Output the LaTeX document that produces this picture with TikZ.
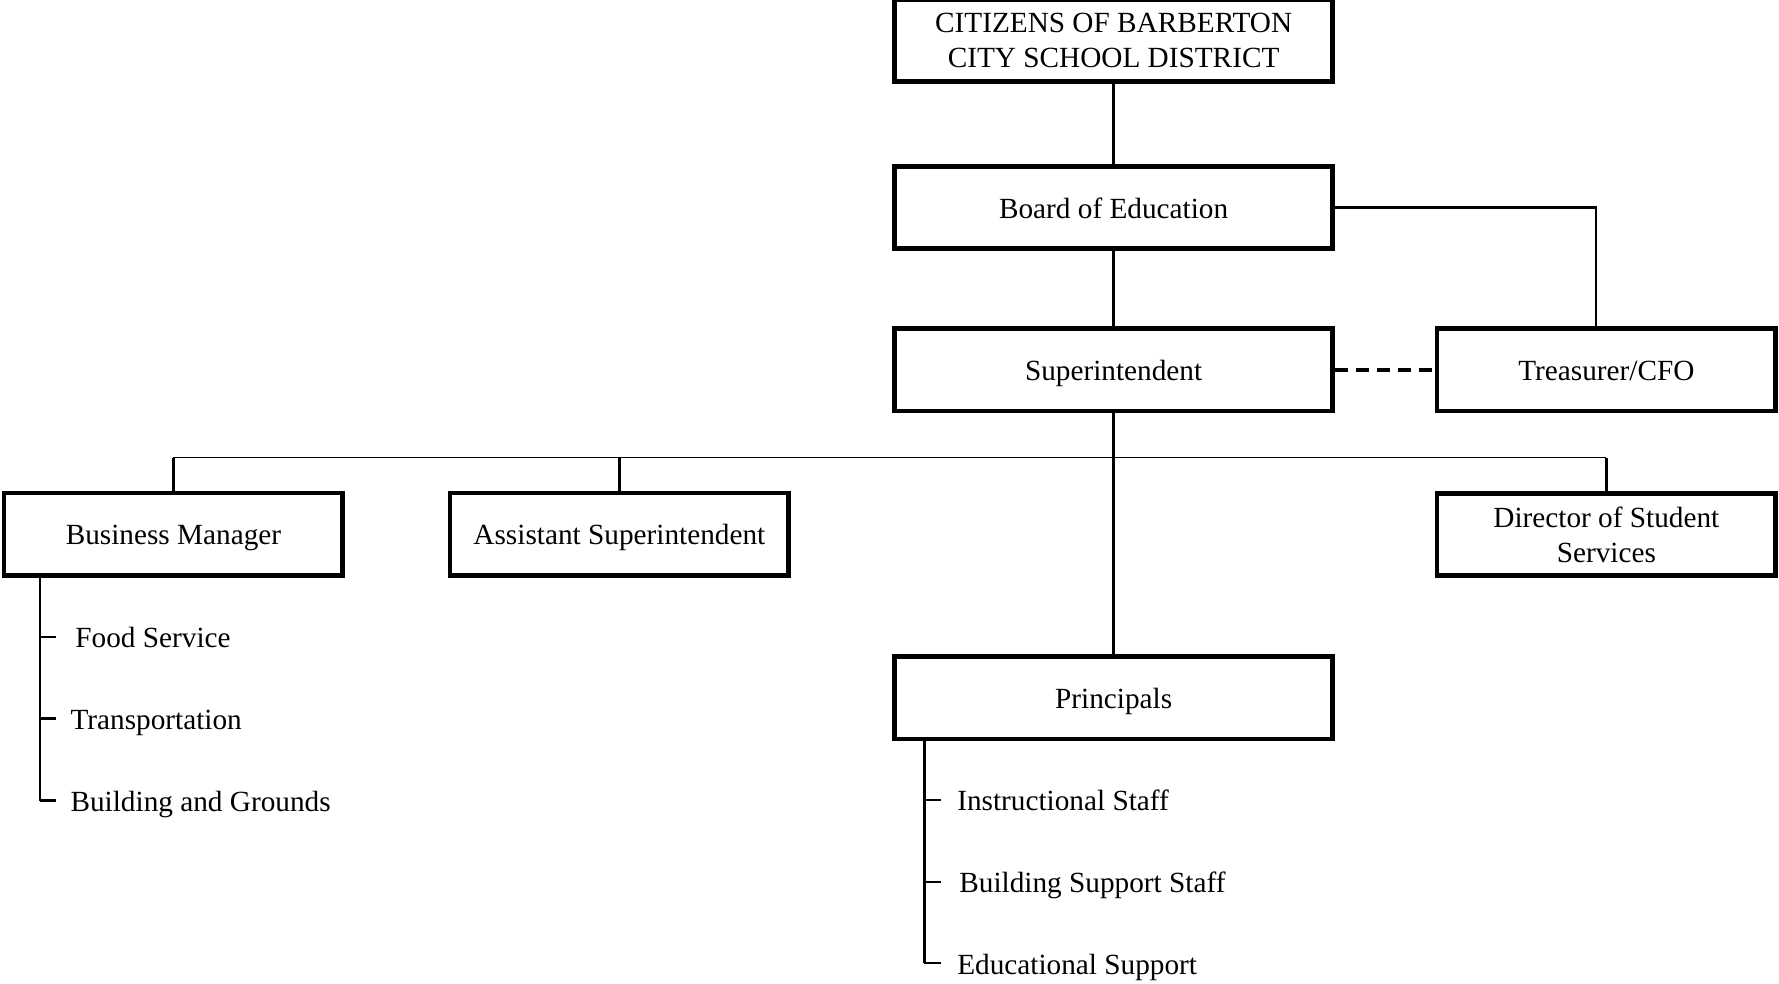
\documentclass[tikz,border=0pt]{standalone}
\usepackage{fontspec}
\setmainfont{Liberation Serif}
\usetikzlibrary{positioning}

\begin{document}
\begin{tikzpicture}[
    font=\fontsize{12pt}{14.4pt}\selectfont,
    boxed/.style={rectangle, draw, line width=1.9pt,
                  minimum width=6.31cm, minimum height=1.187cm,
                  align=center, inner sep=0pt},
    office/.style={boxed, text height=10pt, text depth=1.2pt},
    smalloffice/.style={office, minimum width=4.88cm},
    link/.style={line width=1.1pt},
    duty/.style={anchor=west, inner sep=0pt, text height=9pt, text depth=0pt}
]
\useasboundingbox (0,0) rectangle (25.64,-14.18);

\node[boxed] (citizens) at (16.05,-0.584) {CITIZENS OF BARBERTON\\CITY SCHOOL DISTRICT};
\node[office, below=1.153cm of citizens] (board) {Board of Education};
\node[office, below=1.088cm of board] (super) {Superintendent};
\node[smalloffice, right=1.44cm of super] (treas) {Treasurer/CFO};
\node[office, below=3.473cm of super] (princ) {Principals};
\node[smalloffice] (busmgr) at (2.50,-7.70) {Business Manager};
\node[smalloffice, right=1.48cm of busmgr] (asst) {Assistant Superintendent};
\node[boxed, minimum width=4.88cm, below=1.117cm of treas] (students) {Director of Student\\Services};

\draw[link] (citizens) -- (board);
\draw[link] (board) -- (super);
\draw[link] (board.east) -| ([xshift=-0.15cm]treas.north);
\draw[line width=1.7pt, dash pattern=on 5.3pt off 3.3pt] (super) -- (treas);
\draw[link] (super) -- (princ);

% row under the superintendent
\coordinate (busleft) at ([yshift=0.476cm]busmgr.north);
\coordinate (busright) at (busleft -| students.north);
\draw[line width=0.6pt] (busleft) -- (busright);
\draw[link] (busmgr) -- (busleft);
\draw[link] (asst) -- (asst |- busleft);
\draw[link] (students) -- (busright);

% business manager duties
\coordinate (bmline) at ([xshift=0.55cm]busmgr.south west);
\node[duty] (food) at (1.08,-9.18) {Food Service};
\node[duty] (transport) at (1.01,-10.36) {Transportation};
\node[duty] (grounds) at (1.01,-11.54) {Building and Grounds};
\draw[link] (bmline) -- (bmline |- grounds.west);
\draw[link] (bmline |- food.west) -- ++(0.23,0);
\draw[link] (bmline |- transport.west) -- ++(0.23,0);
\draw[link] (bmline |- grounds.west) -- ++(0.23,0);

% principals duties
\coordinate (prline) at ([xshift=0.46cm]princ.south west);
\node[duty] (instr) at (13.79,-11.53) {Instructional Staff};
\node[duty] (support) at (13.82,-12.71) {Building Support Staff};
\node[duty] (edsupport) at (13.79,-13.88) {Educational Support};
\draw[link] (prline) -- (prline |- edsupport.west);
\draw[link] (prline |- instr.west) -- ++(0.245,0);
\draw[link] (prline |- support.west) -- ++(0.245,0);
\draw[link] (prline |- edsupport.west) -- ++(0.245,0);
\end{tikzpicture}
\end{document}
